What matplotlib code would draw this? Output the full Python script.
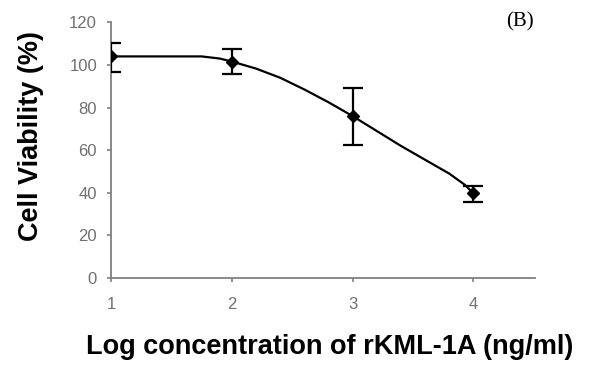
import numpy as np
import matplotlib.pyplot as plt

# data
log_conc = [1, 2, 3, 4]
viability = [104, 101.6, 76, 39.7]
err_upper = [6.5, 5.7, 13.0, 3.3]
err_lower = [7.5, 5.8, 13.6, 3.9]

# fitted curve as drawn
curve_x = [1.0, 1.75, 1.9, 2.0, 2.2, 2.4, 2.6, 2.8, 3.0, 3.2, 3.4, 3.6, 3.8, 3.93, 4.0]
curve_y = [104, 104, 103, 101.6, 98.3, 94, 88.5, 82.5, 76, 69, 62, 55.5, 49, 43.7, 39.7]

xticks = [1, 2, 3, 4]
yticks = [0, 20, 40, 60, 80, 100, 120]

fig = plt.figure(figsize=(5.92, 3.72), dpi=100)
ax = fig.add_axes([0.1875, 0.2527, 0.7162, 0.6873])

ax.plot(curve_x, curve_y, color='black', lw=1.6)
ax.errorbar(log_conc, viability, yerr=[err_lower, err_upper], fmt='D', color='black',
            ms=6, elinewidth=1.6, capsize=7, capthick=1.6)

ax.set_xlim(1, 4.51)
ax.set_ylim(0, 120)
ax.set_xticks(xticks)
ax.set_yticks(yticks)

for side in ['top', 'right']:
    ax.spines[side].set_visible(False)
for side in ['left', 'bottom']:
    ax.spines[side].set_color('#808080')
    ax.spines[side].set_linewidth(1.3)
ax.spines['left'].set_zorder(0)

ax.tick_params(direction='out', length=3, width=1.2, color='#808080',
               labelcolor='#707070', labelsize=12, pad=7)
for lbl in ax.get_xticklabels() + ax.get_yticklabels():
    lbl.set_fontfamily('Liberation Sans')
ax.tick_params(axis='x', pad=11)

fig.text(0.557, 0.066, 'Log concentration of rKML-1A (ng/ml)', ha='center', va='center',
         fontsize=19.5, fontweight='bold', family='Liberation Sans')
fig.text(0.052, 0.635, 'Cell Viability (%)', ha='center', va='center', rotation=90,
         fontsize=19.5, fontweight='bold', family='Liberation Sans')
fig.text(0.878, 0.94, '(B)', ha='center', va='center', fontsize=15,
         family='Liberation Serif')

fig.savefig('out.png', dpi=100)
